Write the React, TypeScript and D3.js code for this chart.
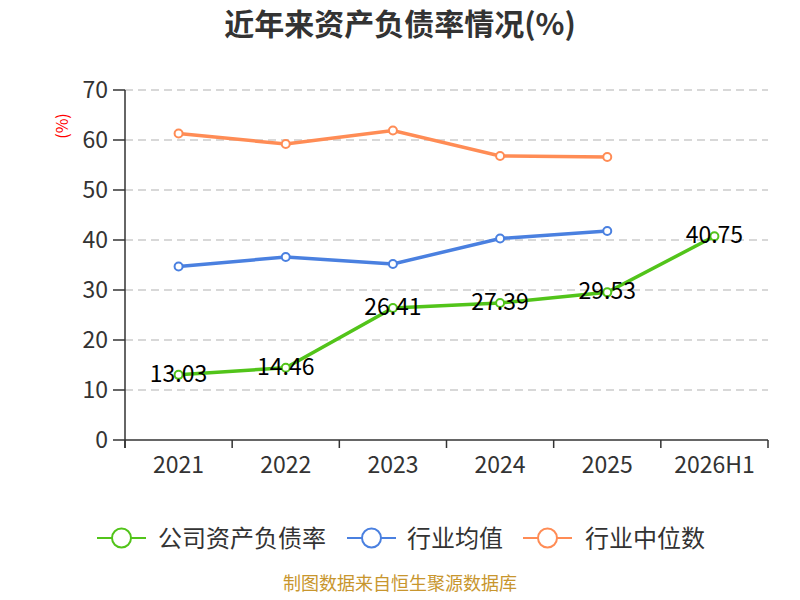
import React from "react";
import * as d3 from "d3";

const categories = ["2021", "2022", "2023", "2024", "2025", "2026H1"];
const companyRate = [13.03, 14.46, 26.41, 27.39, 29.53, 40.75];
const industryAvg = [34.7, 36.6, 35.2, 40.3, 41.8, null];
const industryMedian = [61.3, 59.2, 61.9, 56.8, 56.6, null];
const yTicks = [0, 10, 20, 30, 40, 50, 60, 70];
const seriesNames = ["公司资产负债率", "行业均值", "行业中位数"];
const seriesColors = ["#52c41a", "#4a80e0", "#ff8c55"];

const W = 800;
const H = 600;
const FONT = "'Noto Sans CJK SC', 'Noto Sans', sans-serif";

export default function App() {
  const left = 125, right = 768, top = 90, bottom = 440;
  const x = d3.scaleBand<string>().domain(categories).range([left, right]);
  const y = d3.scaleLinear().domain([0, 70]).range([bottom, top]);
  const cx = (c: string) => (x(c) as number) + x.bandwidth() / 2;

  const allSeries = [companyRate, industryAvg, industryMedian];
  const line = d3
    .line<[string, number | null]>()
    .defined((d) => d[1] != null)
    .x((d) => cx(d[0]))
    .y((d) => y(d[1] as number));

  const legendItems = [
    { lx: 97, tx: 158 },
    { lx: 347, tx: 407 },
    { lx: 523, tx: 585 },
  ];
  const ly = 538;

  return (
    <svg width={W} height={H} style={{ display: "block", position: "absolute", left: 0, top: 0 }} fontFamily={FONT}>
      <rect x={0} y={0} width={W} height={H} fill="#fff" />
      <text x={400} y={35} textAnchor="middle" fontSize={30} fontWeight="bold" fill="#333">
        近年来资产负债率情况(%)
      </text>
      {/* grid */}
      {yTicks.filter((t) => t !== 0).map((t) => (
        <line key={t} x1={left} x2={right} y1={y(t)} y2={y(t)} stroke="#ccc" strokeWidth={1.5} strokeDasharray="8,5" />
      ))}
      {/* y axis */}
      <line x1={left} x2={left} y1={top} y2={bottom + 8} stroke="#333" strokeWidth={1.5} />
      {yTicks.map((t) => (
        <g key={t}>
          <line x1={left - 12} x2={left} y1={y(t)} y2={y(t)} stroke="#333" strokeWidth={1.5} />
          <text x={left - 17} y={y(t)} dy="0.35em" textAnchor="end" fontSize={23} fill="#333">
            {t}
          </text>
        </g>
      ))}
      <text transform={`translate(68,126) rotate(-90)`} textAnchor="middle" fontSize={16} fill="#f00">
        (%)
      </text>
      {/* x axis */}
      <line x1={left} x2={right} y1={bottom} y2={bottom} stroke="#333" strokeWidth={1.5} />
      {categories.map((c) => (
        <line key={"t" + c} x1={x(c) as number} x2={x(c) as number} y1={bottom} y2={bottom + 8} stroke="#333" strokeWidth={1.5} />
      ))}
      <line x1={right} x2={right} y1={bottom} y2={bottom + 8} stroke="#333" strokeWidth={1.5} />
      {categories.map((c) => (
        <text key={"l" + c} x={cx(c)} y={bottom + 25} dy="0.35em" textAnchor="middle" fontSize={23} fill="#333">
          {c}
        </text>
      ))}
      {/* series */}
      {allSeries.map((s, i) => {
        const pts = categories.map((c, j) => [c, s[j]] as [string, number | null]);
        return (
          <g key={i}>
            <path d={line(pts) || ""} fill="none" stroke={seriesColors[i]} strokeWidth={3.5} />
            {pts.filter((p) => p[1] != null).map((p) => (
              <circle key={p[0]} cx={cx(p[0])} cy={y(p[1] as number)} r={4} fill="#fff" stroke={seriesColors[i]} strokeWidth={2} />
            ))}
          </g>
        );
      })}
      {categories.map((c, j) => (
        <text key={"v" + c} x={cx(c)} y={y(companyRate[j])} dy="0.3em" textAnchor="middle" fontSize={23} fill="#000">
          {companyRate[j].toFixed(2)}
        </text>
      ))}
      {/* legend */}
      {seriesNames.map((n, i) => (
        <g key={n}>
          <line x1={legendItems[i].lx} x2={legendItems[i].lx + 49} y1={ly} y2={ly} stroke={seriesColors[i]} strokeWidth={2} />
          <circle cx={legendItems[i].lx + 24.5} cy={ly} r={9.5} fill="#fff" stroke={seriesColors[i]} strokeWidth={2} />
          <text x={legendItems[i].tx} y={ly} dy="0.36em" fontSize={24} fill="#333">
            {n}
          </text>
        </g>
      ))}
      <text x={400} y={590} textAnchor="middle" fontSize={18} fill="#c8962e">
        制图数据来自恒生聚源数据库
      </text>
    </svg>
  );
}
